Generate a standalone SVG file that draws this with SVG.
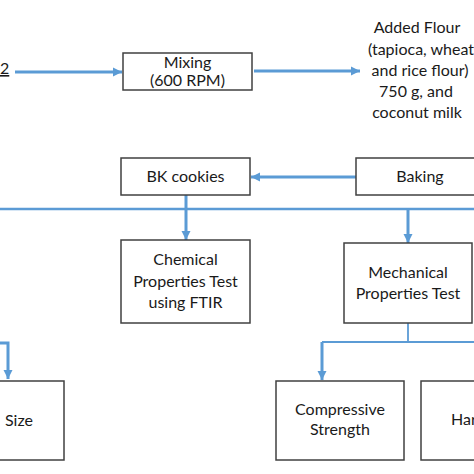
<svg xmlns="http://www.w3.org/2000/svg" width="474" height="474" viewBox="0 0 474 474">
<style>
.box{fill:#fff;stroke:#404040;stroke-width:1.5}
.t{font-family:Lato,"Liberation Sans",sans-serif;font-size:16px;fill:#1a1a1a;text-anchor:middle}
.c{fill:none;stroke:#5b9bd5}
.thick{stroke-width:3}
.mid{stroke-width:2.5}
.thin{stroke-width:1.8}
</style>
<defs>
<marker id="ah" markerUnits="userSpaceOnUse" markerWidth="10" markerHeight="10" refX="9" refY="5" orient="auto">
<path d="M0,0.5 L9,5 L0,9.5 Z" fill="#5b9bd5"/>
</marker>
</defs>
<rect width="474" height="474" fill="#fff"/>
<g id="connectors">
<line class="c thick" x1="15" y1="72" x2="122" y2="72" marker-end="url(#ah)"/>
<line class="c thick" x1="254" y1="71" x2="360" y2="71" marker-end="url(#ah)"/>
<line class="c thick" x1="356" y1="177" x2="251" y2="177" marker-end="url(#ah)"/>
<line class="c mid" x1="0" y1="209" x2="474" y2="209"/>
<line class="c thick" x1="186" y1="195" x2="186" y2="240" marker-end="url(#ah)"/>
<line class="c thick" x1="408" y1="209" x2="408" y2="243" marker-end="url(#ah)"/>
<polyline class="c thin" points="408,323 408,342"/>
<line class="c thin" x1="322" y1="342" x2="474" y2="342"/>
<polyline class="c thick" points="322,342 322,380" marker-end="url(#ah)"/>
<polyline class="c thick" points="0,343 8,343 8,379" marker-end="url(#ah)"/>
</g>
<g id="label-left"><text class="t" x="0" y="74" style="text-anchor:start" text-decoration="underline">2</text></g>
<g id="mixing">
<rect class="box" x="123" y="53" width="129" height="37"/>
<text class="t" x="187.5" y="68">Mixing</text>
<text class="t" x="187.5" y="86">(600 RPM)</text>
</g>
<g id="added-flour">
<text class="t" x="417" y="33">Added Flour</text>
<text class="t" x="421" y="55">(tapioca, wheat</text>
<text class="t" x="420" y="76">and rice flour)</text>
<text class="t" x="416" y="97">750 g, and</text>
<text class="t" x="417" y="118">coconut milk</text>
</g>
<g id="baking">
<rect class="box" x="356" y="158" width="128" height="37"/>
<text class="t" x="420" y="182">Baking</text>
</g>
<g id="bk-cookies">
<rect class="box" x="121" y="158" width="129" height="37"/>
<text class="t" x="185.5" y="182">BK cookies</text>
</g>
<g id="chemical">
<rect class="box" x="121" y="240" width="129" height="83"/>
<text class="t" x="185.5" y="265">Chemical</text>
<text class="t" x="185.5" y="287">Properties Test</text>
<text class="t" x="185.5" y="308">using FTIR</text>
</g>
<g id="mechanical">
<rect class="box" x="344" y="243" width="128" height="80"/>
<text class="t" x="408" y="278">Mechanical</text>
<text class="t" x="408" y="299">Properties Test</text>
</g>
<g id="size">
<rect class="box" x="-70" y="381" width="134" height="79"/>
<text class="t" x="5" y="426" style="text-anchor:start">Size</text>
</g>
<g id="compressive">
<rect class="box" x="276" y="381" width="128" height="79"/>
<text class="t" x="340" y="415">Compressive</text>
<text class="t" x="340" y="435">Strength</text>
</g>
<g id="hardness">
<rect class="box" x="421" y="381" width="128" height="79"/>
<text class="t" x="451" y="425" style="text-anchor:start">Har</text>
</g>
</svg>
